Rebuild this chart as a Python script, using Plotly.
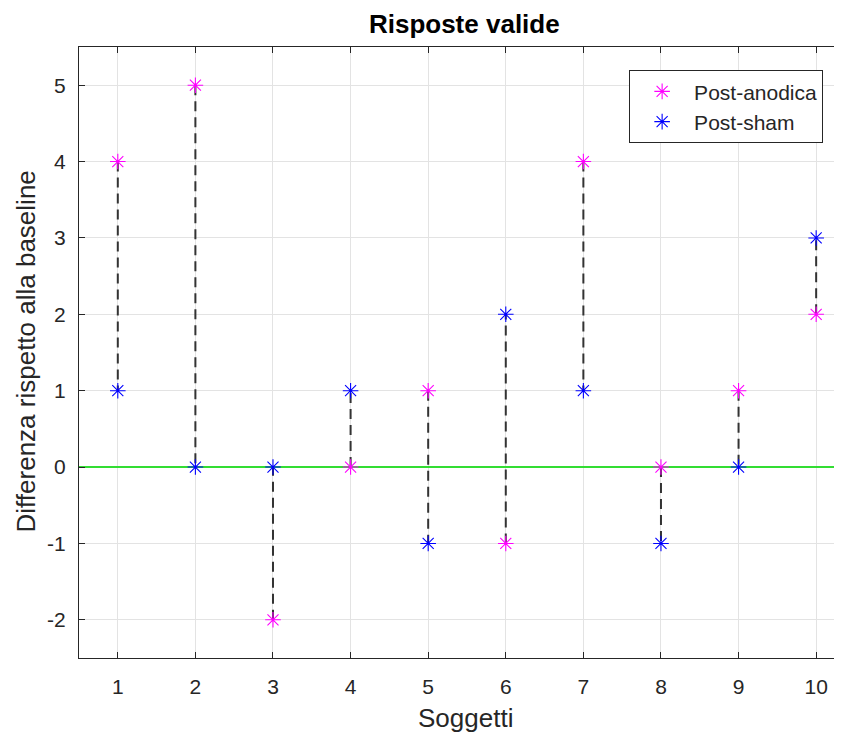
import plotly.graph_objects as go

soggetti = [1, 2, 3, 4, 5, 6, 7, 8, 9, 10]
post_anodica = [4, 5, -2, 0, 1, -1, 4, 0, 1, 2]
post_sham = [1, 0, 0, 1, -1, 2, 1, -1, 0, 3]
y_ticks = [-2, -1, 0, 1, 2, 3, 4, 5]
y_tick_labels = ["-2", "-1", "0", "1", "2", "3", "4", "5"]

FONT = "Liberation Sans, Arial, Helvetica, sans-serif"
TXT = "#262626"

fig = go.Figure()

# baseline line at zero
fig.add_trace(go.Scatter(x=[0.5, 10.5], y=[0, 0], mode="lines",
                         line=dict(color="#33dd33", width=2), showlegend=False,
                         hoverinfo="skip"))

# dashed connectors
lx, ly = [], []
for s, a, b in zip(soggetti, post_anodica, post_sham):
    lx += [s, s, None]
    ly += [a, b, None]
fig.add_trace(go.Scatter(x=lx, y=ly, mode="lines",
                         line=dict(color="#333333", width=2, dash="10px,6px"),
                         showlegend=False, hoverinfo="skip"))

fig.add_trace(go.Scatter(x=soggetti, y=post_anodica, mode="markers", name="Post-anodica",
                         marker=dict(symbol="asterisk-open", size=13,
                                     line=dict(color="#ff00ff", width=1.1), color="#ff00ff")))
fig.add_trace(go.Scatter(x=soggetti, y=post_sham, mode="markers", name="Post-sham",
                         marker=dict(symbol="asterisk-open", size=13,
                                     line=dict(color="#0000ff", width=1.1), color="#0000ff")))

fig.update_layout(
    width=834, height=732,
    margin=dict(l=71, r=0, t=39, b=82),
    paper_bgcolor="white", plot_bgcolor="white",
    font=dict(family=FONT, color=TXT, size=21),
    title=dict(text="<b>Risposte valide</b>", xref="paper", x=0.505, xanchor="center",
               y=1 - 16 / 732, yanchor="middle",
               font=dict(size=26, color="black", family=FONT)),
    xaxis=dict(range=[0.5, 10.333], tickmode="array", tickvals=soggetti,
               showgrid=True, gridcolor="#e3e3e3", gridwidth=1,
               zeroline=False, showline=True, linecolor="#262626", linewidth=1,
               mirror="ticks", ticks="inside", ticklen=6, tickcolor="#262626",
               tickfont=dict(size=21, color=TXT), ticklabelstandoff=10),
    yaxis=dict(range=[-2.5, 5.5], tickmode="array", tickvals=y_ticks,
               ticktext=y_tick_labels,
               showgrid=True, gridcolor="#e3e3e3", gridwidth=1,
               zeroline=False, showline=True, linecolor="#262626", linewidth=1,
               ticks="inside", ticklen=6, tickcolor="#262626",
               tickfont=dict(size=21, color=TXT), ticklabelstandoff=8),
    legend=dict(x=0.721, y=0.962, xanchor="left", yanchor="top",
                bgcolor="white", bordercolor="#262626", borderwidth=1,
                font=dict(size=21, color=TXT), itemwidth=54,
                tracegroupgap=0, traceorder="normal"),
    annotations=[
        dict(text="Soggetti", xref="paper", yref="paper", x=0.507, y=-0.098,
             xanchor="center", yanchor="middle", showarrow=False,
             font=dict(size=26, color=TXT, family=FONT)),
        dict(text="Differenza rispetto alla baseline", xref="paper", yref="paper",
             x=-0.07, y=0.501, xanchor="center", yanchor="middle", textangle=-90,
             showarrow=False, font=dict(size=26, color=TXT, family=FONT)),
    ],
)

fig.write_html("out.html")
